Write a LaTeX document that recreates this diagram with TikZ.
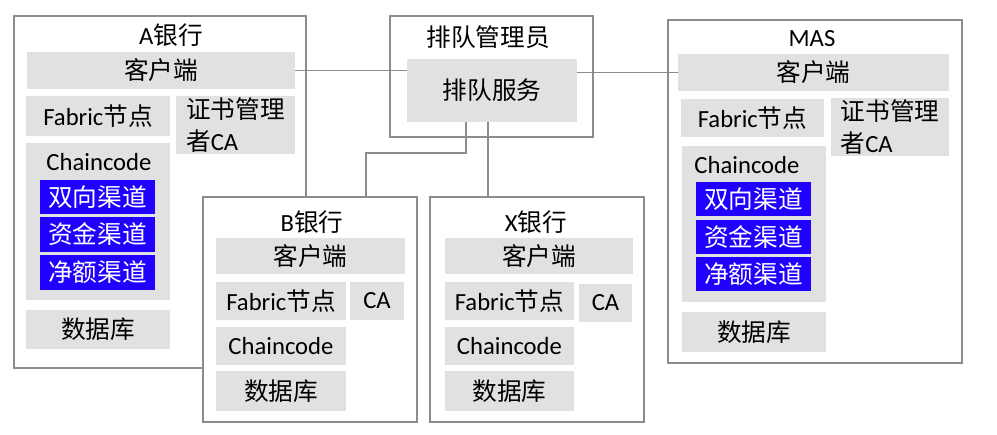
\documentclass[tikz,border=0pt]{standalone}
\usepackage{fontspec}
\setmainfont{Carlito}
\newfontfamily\cjk{Noto Sans CJK SC}
\usetikzlibrary{fit}
\definecolor{edge}{RGB}{140,140,140}
\definecolor{gfill}{RGB}{224,225,224}
\definecolor{bfill}{RGB}{32,0,255}
\begin{document}
\begin{tikzpicture}[x=0.75pt,y=-0.75pt,
  every node/.style={inner sep=0pt, outer sep=0pt, font=\fontsize{18.5}{24}\selectfont},
  outerbox/.style={draw=edge, line width=1.1pt, fill=white},
  gbox/.style={fill=gfill},
  chanbox/.style={fill=bfill},
  wtext/.style={text=white},
  wire/.style={draw=edge, line width=0.8pt}]
\fill[white] (0,0) rectangle (997,435);
\useasboundingbox (0,0) rectangle (997,435);

% A bank
\node[outerbox, fit={(14,16) (306,368)}] (Abox) {};
\node (Atitle) at (171,35) {A{\cjk 银行}};
\node[gbox, fit={(27,52) (295,89)}, label={center:{\cjk 客户端}}] (Acli) {};
\node[gbox, fit={(26,96) (170,136)}, label={center:Fabric{\cjk 节点}}] (Afab) {};
\node[gbox, fit={(176,96) (295,154)}, label={[align=left]center:{\cjk 证书管理}\\{\cjk 者}CA}] (Aca) {};
\node[gbox, fit={(26,143) (170,300)}] (Acc) {};
\node (Acct) at (99,162) {Chaincode};
\node[chanbox, fit={(40,180) (155,214)}, label={[wtext]center:{\cjk 双向渠道}}] (Ach1) {};
\node[chanbox, fit={(40,217) (155,252)}, label={[wtext]center:{\cjk 资金渠道}}] (Ach2) {};
\node[chanbox, fit={(40,255) (155,290)}, label={[wtext]center:{\cjk 净额渠道}}] (Ach3) {};
\node[gbox, fit={(26,310) (170,349)}, label={center:{\cjk 数据库}}] (Adb) {};

% Queue manager
\node[outerbox, fit={(390,16) (593,137)}] (Qbox) {};
\node (Qtitle) at (488,37) {\cjk 排队管理员};
\node[gbox, fit={(407,59) (577,122)}, label={center:{\cjk 排队服务}}] (Qsvc) {};

% MAS
\node[outerbox, fit={(668,20) (962,363)}] (Mbox) {};
\node (Mtitle) at (812,39) {MAS};
\node[gbox, fit={(678,54) (949,91)}, label={center:{\cjk 客户端}}] (Mcli) {};
\node[gbox, fit={(681,99) (824,137)}, label={center:Fabric{\cjk 节点}}] (Mfab) {};
\node[gbox, fit={(831,98) (949,156)}, label={[align=left]center:{\cjk 证书管理}\\{\cjk 者}CA}] (Mca) {};
\node[gbox, fit={(682,146) (826,302)}] (Mcc) {};
\node (Mcct) at (747,165) {Chaincode};
\node[chanbox, fit={(696,182) (811,216)}, label={[wtext]center:{\cjk 双向渠道}}] (Mch1) {};
\node[chanbox, fit={(696,220) (811,254)}, label={[wtext]center:{\cjk 资金渠道}}] (Mch2) {};
\node[chanbox, fit={(696,257) (811,291)}, label={[wtext]center:{\cjk 净额渠道}}] (Mch3) {};
\node[gbox, fit={(682,312) (826,352)}, label={center:{\cjk 数据库}}] (Mdb) {};

% B bank
\node[outerbox, fit={(203,197) (417,422)}] (Bbox) {};
\node (Btitle) at (312,222) {B{\cjk 银行}};
\node[gbox, fit={(216,238) (405,274)}, label={center:{\cjk 客户端}}] (Bcli) {};
\node[gbox, fit={(216,282) (346,320)}, label={center:Fabric{\cjk 节点}}] (Bfab) {};
\node[gbox, fit={(350,282) (404,320)}, label={center:CA}] (Bca) {};
\node[gbox, fit={(216,327) (346,365)}, label={center:Chaincode}] (Bcc) {};
\node[gbox, fit={(216,371) (346,411)}, label={center:{\cjk 数据库}}] (Bdb) {};

% X bank
\node[outerbox, fit={(430,197) (644,422)}] (Xbox) {};
\node (Xtitle) at (536,222) {X{\cjk 银行}};
\node[gbox, fit={(445,238) (633,274)}, label={center:{\cjk 客户端}}] (Xcli) {};
\node[gbox, fit={(445,282) (574,320)}, label={center:Fabric{\cjk 节点}}] (Xfab) {};
\node[gbox, fit={(579,284) (632,322)}, label={center:CA}] (Xca) {};
\node[gbox, fit={(445,327) (574,365)}, label={center:Chaincode}] (Xcc) {};
\node[gbox, fit={(445,371) (574,411)}, label={center:{\cjk 数据库}}] (Xdb) {};

% connectors
\draw[wire] (Acli.east) -- (Acli.east -| Qsvc.west);
\draw[wire] (Qsvc.east |- Mcli.west) -- (Mcli.west);
\coordinate (qbk) at (366,153);
\draw[wire] ([xshift=-19.5pt]Qsvc.south) |- (qbk) -- (qbk |- Bbox.north);
\draw[wire] ([xshift=-3pt]Qsvc.south) -- ([xshift=-3pt]Qsvc.south |- Xbox.north);
\end{tikzpicture}
\end{document}
